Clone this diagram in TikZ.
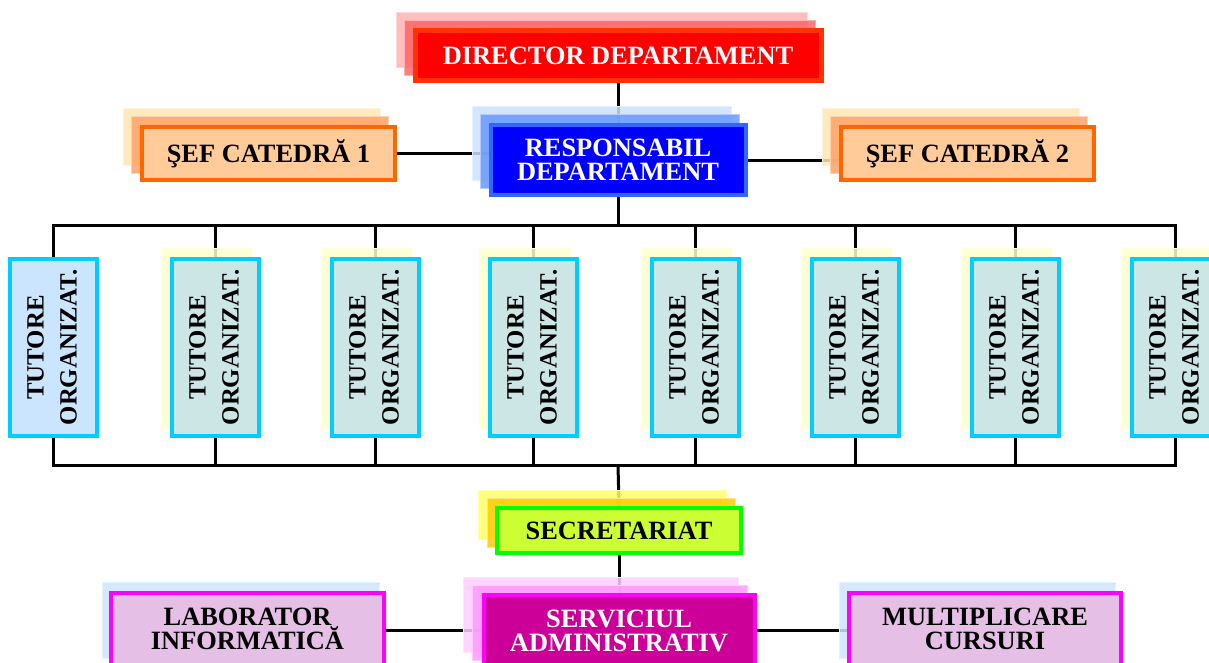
\documentclass[tikz,border=0pt]{standalone}
\usepackage{fontspec}
\setmainfont{Liberation Serif}
\usepackage{graphicx}

\definecolor{dirA}{HTML}{FFB3B3}
\definecolor{dirB}{HTML}{FF6666}
\definecolor{dirfill}{HTML}{FF0000}
\definecolor{dirline}{HTML}{FF3300}
\definecolor{respA}{HTML}{CCE0FF}
\definecolor{respB}{HTML}{6699FF}
\definecolor{respfill}{HTML}{0000FF}
\definecolor{respline}{HTML}{3366FF}
\definecolor{sefA}{HTML}{FFE6B3}
\definecolor{sefB}{HTML}{FFA366}
\definecolor{seffill}{HTML}{FFCC99}
\definecolor{sefline}{HTML}{FF6600}
\definecolor{tutA}{HTML}{FFFFCC}
\definecolor{tutfill}{HTML}{CCE6E6}
\definecolor{tutfirst}{HTML}{CCE5FF}
\definecolor{tutline}{HTML}{00CCFF}
\definecolor{secA}{HTML}{FFFF66}
\definecolor{secB}{HTML}{FFCC00}
\definecolor{secfill}{HTML}{CCFF33}
\definecolor{secline}{HTML}{00FF00}
\definecolor{servA}{HTML}{FFCCFF}
\definecolor{servB}{HTML}{FF99FF}
\definecolor{servfill}{HTML}{CC0099}
\definecolor{magline}{HTML}{FF00FF}
\definecolor{labA}{HTML}{CCE5FF}
\definecolor{labfill}{HTML}{E6BFE6}

\pgfdeclarelayer{lines}
\pgfdeclarelayer{shadows}
\pgfsetlayers{lines,shadows,main}

\begin{document}
\begin{tikzpicture}[x=1pt,y=-1pt,
    box/.style={draw, line width=4pt, inner sep=0pt, align=center,
      font={\fontsize{26.4pt}{24pt}\selectfont\bfseries}},
    tutbox/.style={draw=tutline, fill=tutfill, line width=4pt, inner sep=0pt,
      minimum width=87pt, minimum height=177pt,
      font={\fontsize{24.8pt}{33pt}\selectfont\bfseries}},
    layer/.style={fill opacity=0.85, line width=1pt}]
  \useasboundingbox (0,0) rectangle (1209,662);

  % boxes
  \node[box, fill=dirfill, draw=dirline, line width=5pt, text=white,
    minimum width=406pt, minimum height=50pt] (dir) at (618,55.5) {DIRECTOR DEPARTAMENT};
  \node[box, fill=respfill, draw=respline, text=white,
    minimum width=255pt, minimum height=70pt] (resp) at (618,160) {RESPONSABIL\\DEPARTAMENT};
  \node[box, fill=seffill, draw=sefline,
    minimum width=253pt, minimum height=53pt] (sef1) at (268.5,153.5) {ŞEF CATEDRĂ 1};
  \node[box, fill=seffill, draw=sefline,
    minimum width=253pt, minimum height=53pt] (sef2) at (967.5,153.5) {ŞEF CATEDRĂ 2};

  \node[tutbox, fill=tutfirst] (t1) at (53.5,347.5)
    {\rotatebox{90}{\begin{tabular}{@{}c@{}}TUTORE\\ORGANIZAT.\end{tabular}}};
  \node[tutbox] (t2) at (215.5,347.5)
    {\rotatebox{90}{\begin{tabular}{@{}c@{}}TUTORE\\ORGANIZAT.\end{tabular}}};
  \node[tutbox] (t3) at (375.5,347.5)
    {\rotatebox{90}{\begin{tabular}{@{}c@{}}TUTORE\\ORGANIZAT.\end{tabular}}};
  \node[tutbox] (t4) at (533.5,347.5)
    {\rotatebox{90}{\begin{tabular}{@{}c@{}}TUTORE\\ORGANIZAT.\end{tabular}}};
  \node[tutbox] (t5) at (695.5,347.5)
    {\rotatebox{90}{\begin{tabular}{@{}c@{}}TUTORE\\ORGANIZAT.\end{tabular}}};
  \node[tutbox] (t6) at (855.5,347.5)
    {\rotatebox{90}{\begin{tabular}{@{}c@{}}TUTORE\\ORGANIZAT.\end{tabular}}};
  \node[tutbox] (t7) at (1015.5,347.5)
    {\rotatebox{90}{\begin{tabular}{@{}c@{}}TUTORE\\ORGANIZAT.\end{tabular}}};
  \node[tutbox] (t8) at (1175.5,347.5)
    {\rotatebox{90}{\begin{tabular}{@{}c@{}}TUTORE\\ORGANIZAT.\end{tabular}}};

  \node[box, fill=secfill, draw=secline,
    minimum width=244pt, minimum height=45pt] (sec) at (619,530.5) {SECRETARIAT};
  \node[box, fill=servfill, draw=magline, text=white,
    minimum width=271pt, minimum height=71pt] (serv) at (619,630.5) {SERVICIUL\\ADMINISTRATIV};
  \node[box, fill=labfill, draw=magline,
    minimum width=273pt, minimum height=72pt] (lab) at (247.5,629) {LABORATOR\\INFORMATICĂ};
  \node[box, fill=labfill, draw=magline,
    minimum width=272pt, minimum height=72pt] (multi) at (985,629) {MULTIPLICARE\\CURSURI};

  \coordinate (bustop) at (618,225);
  \coordinate (busbot) at (618,465);

  % stacked layers behind the boxes
  \begin{pgfonlayer}{shadows}
    \filldraw[layer, fill=dirA, draw=dirA!50!white] ([shift={(-16,-16)}]dir.south west) rectangle ([shift={(-16,-16)}]dir.north east);
    \filldraw[layer, fill=dirB, draw=dirB!50!white] ([shift={(-8,-8)}]dir.south west) rectangle ([shift={(-8,-8)}]dir.north east);
    \filldraw[layer, fill=respA, draw=respA!50!white] ([shift={(-16,-17)}]resp.south west) rectangle ([shift={(-16,-17)}]resp.north east);
    \filldraw[layer, fill=respB, draw=respB!50!white] ([shift={(-8,-9)}]resp.south west) rectangle ([shift={(-8,-9)}]resp.north east);
    \filldraw[layer, fill=sefA, draw=sefA!50!white] ([shift={(-17,-17)}]sef1.south west) rectangle ([shift={(-17,-17)}]sef1.north east);
    \filldraw[layer, fill=sefB, draw=sefB!50!white] ([shift={(-9,-9)}]sef1.south west) rectangle ([shift={(-9,-9)}]sef1.north east);
    \filldraw[layer, fill=sefA, draw=sefA!50!white] ([shift={(-17,-17)}]sef2.south west) rectangle ([shift={(-17,-17)}]sef2.north east);
    \filldraw[layer, fill=sefB, draw=sefB!50!white] ([shift={(-9,-9)}]sef2.south west) rectangle ([shift={(-9,-9)}]sef2.north east);
    \filldraw[layer, fill=tutA, draw=tutA!50!white] ([shift={(-9,-9)}]t2.south west) rectangle ([shift={(-9,-9)}]t2.north east);
    \filldraw[layer, fill=tutA, draw=tutA!50!white] ([shift={(-9,-9)}]t3.south west) rectangle ([shift={(-9,-9)}]t3.north east);
    \filldraw[layer, fill=tutA, draw=tutA!50!white] ([shift={(-9,-9)}]t4.south west) rectangle ([shift={(-9,-9)}]t4.north east);
    \filldraw[layer, fill=tutA, draw=tutA!50!white] ([shift={(-9,-9)}]t5.south west) rectangle ([shift={(-9,-9)}]t5.north east);
    \filldraw[layer, fill=tutA, draw=tutA!50!white] ([shift={(-9,-9)}]t6.south west) rectangle ([shift={(-9,-9)}]t6.north east);
    \filldraw[layer, fill=tutA, draw=tutA!50!white] ([shift={(-9,-9)}]t7.south west) rectangle ([shift={(-9,-9)}]t7.north east);
    \filldraw[layer, fill=tutA, draw=tutA!50!white] ([shift={(-9,-9)}]t8.south west) rectangle ([shift={(-9,-9)}]t8.north east);
    \filldraw[layer, fill=secA, draw=secA!50!white] ([shift={(-17,-16)}]sec.south west) rectangle ([shift={(-17,-16)}]sec.north east);
    \filldraw[layer, fill=secB, draw=secB!50!white] ([shift={(-8,-8)}]sec.south west) rectangle ([shift={(-8,-8)}]sec.north east);
    \filldraw[layer, fill=servA, draw=servA!50!white] ([shift={(-18,-16)}]serv.south west) rectangle ([shift={(-18,-16)}]serv.north east);
    \filldraw[layer, fill=servB, draw=servB!50!white] ([shift={(-9,-8)}]serv.south west) rectangle ([shift={(-9,-8)}]serv.north east);
    \filldraw[layer, fill=labA, draw=labA!50!white] ([shift={(-7,-9)}]lab.south west) rectangle ([shift={(-7,-9)}]lab.north east);
    \filldraw[layer, fill=labA, draw=labA!50!white] ([shift={(-8,-9)}]multi.south west) rectangle ([shift={(-8,-9)}]multi.north east);
  \end{pgfonlayer}

  % connectors
  \begin{pgfonlayer}{lines}
  \begin{scope}[line width=3pt]
    \draw (dir.south) to (resp.north);
    \draw (sef1.east) to (sef1.east -| resp.west);
    \draw (resp.east) to (resp.east -| sef2.west);
    \draw (resp.south) to (bustop);
    \draw (t1.north) -- (t1.north |- bustop) -- (t8.north |- bustop) -- (t8.north);
    \draw (t2.north) to (t2.north |- bustop);
    \draw (t3.north) to (t3.north |- bustop);
    \draw (t4.north) to (t4.north |- bustop);
    \draw (t5.north) to (t5.north |- bustop);
    \draw (t6.north) to (t6.north |- bustop);
    \draw (t7.north) to (t7.north |- bustop);
    \draw (t1.south) -- (t1.south |- busbot) -- (t8.south |- busbot) -- (t8.south);
    \draw (t2.south) to (t2.south |- busbot);
    \draw (t3.south) to (t3.south |- busbot);
    \draw (t4.south) to (t4.south |- busbot);
    \draw (t5.south) to (t5.south |- busbot);
    \draw (t6.south) to (t6.south |- busbot);
    \draw (t7.south) to (t7.south |- busbot);
    \draw (busbot) to (sec.north);
    \draw (sec.south) to (serv.north);
    \draw (serv.west) to (serv.west -| lab.east);
    \draw (serv.east) to (serv.east -| multi.west);
  \end{scope}
  \end{pgfonlayer}
\end{tikzpicture}
\end{document}
